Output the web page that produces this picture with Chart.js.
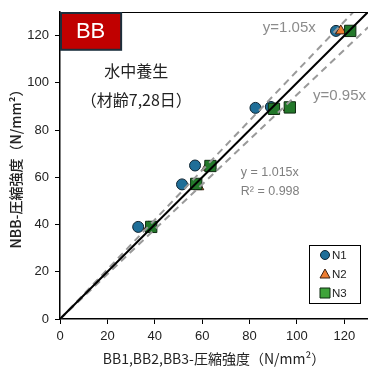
<!DOCTYPE html>
<html>
<head>
<meta charset="utf-8">
<script src="https://cdn.jsdelivr.net/npm/chart.js@4"></script>
<style>
  html, body { margin: 0; padding: 0; background: #fff; }
  #wrap { width: 368px; height: 369px; position: relative; }
</style>
</head>
<body>
<div id="wrap"><canvas id="c" width="368" height="369"></canvas></div>
<script>
// Compressive strength: BB specimens (x) vs NBB specimens (y), N/mm²
const seriesNames = ['N1', 'N2', 'N3'];
const n1X = [33, 51.5, 57, 82.5, 89, 116.5];
const n1Y = [39, 57, 65, 89.4, 89.8, 122];
const n2X = [37.5, 58.5, 62, 90, 96.5, 118.5];
const n2Y = [39, 56, 64.3, 89, 89.5, 122];
const n3X = [38.5, 57.5, 63.5, 90.3, 97, 122.5];
const n3Y = [39, 57.2, 64.8, 89, 89.6, 122];

// Reference lines y = k·x
const refSlopes = [1.0, 1.05, 0.95];
const axisMax = 130;
const tickValues = [0, 20, 40, 60, 80, 100, 120];

const FONT = "'Liberation Sans', Arial, 'Noto Sans CJK JP', sans-serif";
const JFONT = "'Noto Sans CJK JP', 'Liberation Sans', sans-serif";

function pts(xs, ys) { return xs.map((x, i) => ({ x: x, y: ys[i] })); }
function refLine(k) {
  const xEnd = Math.min(axisMax, axisMax / k);
  return [{ x: 0, y: 0 }, { x: xEnd, y: k * xEnd }];
}

const markerStyles = [
  { pointStyle: 'circle', radius: 5.5, fill: '#1f6e98', stroke: '#0f2431' },
  { pointStyle: 'triangle', radius: 6, fill: '#ed7d31', stroke: '#3a2010' },
  { pointStyle: 'rect', radius: 8, fill: '#23782a', stroke: '#0f2a10' }
];
const legendSquareFill = '#3fa33a';

const seriesData = [pts(n1X, n1Y), pts(n2X, n2Y), pts(n3X, n3Y)];

const datasets = [];
refSlopes.forEach((k, i) => {
  datasets.push({
    label: 'y=' + k + 'x',
    data: refLine(k),
    showLine: true,
    pointRadius: 0,
    borderColor: i === 0 ? '#000' : '#9a9a9a',
    borderWidth: 2,
    borderDash: i === 0 ? [] : [7, 5],
    order: 0
  });
});
seriesNames.forEach((name, i) => {
  const m = markerStyles[i];
  datasets.push({
    label: name,
    data: seriesData[i],
    showLine: false,
    pointStyle: m.pointStyle,
    pointRadius: m.radius,
    pointHoverRadius: m.radius,
    backgroundColor: m.fill,
    borderColor: m.stroke,
    pointBorderWidth: 1,
    order: 3 - i
  });
});

// Text annotations placed in data coordinates
const annotations = [
  { text: 'y=1.05x', x: 85.6, y: 123.3, align: 'left', size: 15, color: '#8c8c8c', font: FONT },
  { text: 'y=0.95x', x: 106.8, y: 94.5, align: 'left', size: 15, color: '#8c8c8c', font: FONT },
  { text: 'y = 1.015x', x: 76.3, y: 61.9, align: 'left', size: 12.5, color: '#7f7f7f', font: FONT },
  { text: 'R² = 0.998', x: 76.3, y: 53.8, align: 'left', size: 12.5, color: '#7f7f7f', font: FONT },
  { text: '水中養生', x: 32.2, y: 105.2, align: 'center', size: 16, color: '#222', font: JFONT },
  { text: '（材齢7,28日）', x: 32.2, y: 92.8, align: 'center', size: 16, color: '#222', font: JFONT }
];

const decorPlugin = {
  id: 'decor',
  afterDatasetsDraw(chart) {
    const ctx = chart.ctx;
    const xs = chart.scales.x, ys = chart.scales.y;
    const a = chart.chartArea;
    ctx.save();
    // top frame line
    ctx.strokeStyle = '#000';
    ctx.lineWidth = 1.2;
    ctx.beginPath();
    ctx.moveTo(a.left, a.top + 0.5);
    ctx.lineTo(a.right, a.top + 0.5);
    ctx.stroke();

    // "BB" label box
    const bx0 = xs.getPixelForValue(0), bx1 = xs.getPixelForValue(25.8);
    const by0 = ys.getPixelForValue(130), by1 = ys.getPixelForValue(114);
    ctx.fillStyle = '#c00000';
    ctx.fillRect(bx0, by0, bx1 - bx0, by1 - by0);
    ctx.strokeStyle = '#1c2f3c';
    ctx.lineWidth = 2;
    ctx.strokeRect(bx0 + 1, by0 + 1, bx1 - bx0 - 1, by1 - by0 - 1);
    ctx.fillStyle = '#fff';
    ctx.font = '22px ' + FONT;
    ctx.textAlign = 'center';
    ctx.textBaseline = 'middle';
    ctx.fillText('BB', (bx0 + bx1) / 2, (by0 + by1) / 2 + 1);

    // annotations
    annotations.forEach(t => {
      ctx.fillStyle = t.color;
      ctx.font = t.size + 'px ' + t.font;
      ctx.textAlign = t.align;
      ctx.textBaseline = 'middle';
      ctx.fillText(t.text, xs.getPixelForValue(t.x), ys.getPixelForValue(t.y));
    });

    // legend box
    const lx0 = 309, ly0 = 245, lw = 51, lh = 58;
    ctx.fillStyle = '#fff';
    ctx.fillRect(lx0, ly0, lw, lh);
    ctx.strokeStyle = '#000';
    ctx.lineWidth = 1;
    ctx.strokeRect(lx0 + 0.5, ly0 + 0.5, lw, lh);
    seriesNames.forEach((name, i) => {
      const m = markerStyles[i];
      const cy = ly0 + 10 + i * 19;
      ctx.fillStyle = i === 2 ? legendSquareFill : m.fill;
      ctx.strokeStyle = m.stroke;
      ctx.lineWidth = 1;
      ctx.beginPath();
      if (m.pointStyle === 'circle') {
        ctx.arc(lx0 + 16, cy, 4.5, 0, Math.PI * 2);
      } else if (m.pointStyle === 'triangle') {
        ctx.moveTo(lx0 + 16, cy - 5);
        ctx.lineTo(lx0 + 21, cy + 4);
        ctx.lineTo(lx0 + 11, cy + 4);
        ctx.closePath();
      } else {
        ctx.rect(lx0 + 11, cy - 5, 10, 10);
      }
      ctx.fill();
      ctx.stroke();
      ctx.fillStyle = '#222';
      ctx.font = '11.5px ' + FONT;
      ctx.textAlign = 'left';
      ctx.textBaseline = 'middle';
      ctx.fillText(name, lx0 + 23, cy + 0.5);
    });
    ctx.restore();
  }
};

function fixTicks(scale) {
  scale.ticks = tickValues.map(v => ({ value: v }));
}

new Chart(document.getElementById('c'), {
  type: 'scatter',
  data: { datasets: datasets },
  options: {
    responsive: false,
    animation: false,
    events: [],
    layout: { autoPadding: false, padding: { top: 12, right: 0, left: 0, bottom: 0 } },
    plugins: { legend: { display: false }, tooltip: { enabled: false } },
    scales: {
      x: {
        type: 'linear', min: 0, max: axisMax,
        afterBuildTicks: fixTicks,
        afterFit(s) { s.height = 50; s.paddingRight = 0; s.paddingLeft = 0; },
        grid: { drawOnChartArea: false, drawTicks: true, tickLength: 5, color: '#000', lineWidth: 1 },
        border: { display: true, color: '#000', width: 1.5 },
        ticks: { color: '#222', font: { size: 13, family: FONT }, padding: 5, maxRotation: 0 },
        title: { display: true, text: 'BB1,BB2,BB3-圧縮強度（N/mm²）', color: '#222',
                 font: { size: 14, family: JFONT }, padding: { top: 0, bottom: 2 } }
      },
      y: {
        type: 'linear', min: 0, max: axisMax,
        afterBuildTicks: fixTicks,
        afterFit(s) { s.width = 60; s.paddingTop = 0; s.paddingBottom = 0; },
        grid: { drawOnChartArea: false, drawTicks: true, tickLength: 5, color: '#000', lineWidth: 1 },
        border: { display: true, color: '#000', width: 1.5 },
        ticks: { color: '#222', font: { size: 13, family: FONT }, padding: 6 },
        title: { display: true, text: 'NBB-圧縮強度（N/mm²）', color: '#222',
                 font: { size: 14, family: JFONT, weight: '500' }, padding: { top: 7, bottom: 0 } }
      }
    }
  },
  plugins: [decorPlugin]
});
</script>
</body>
</html>
